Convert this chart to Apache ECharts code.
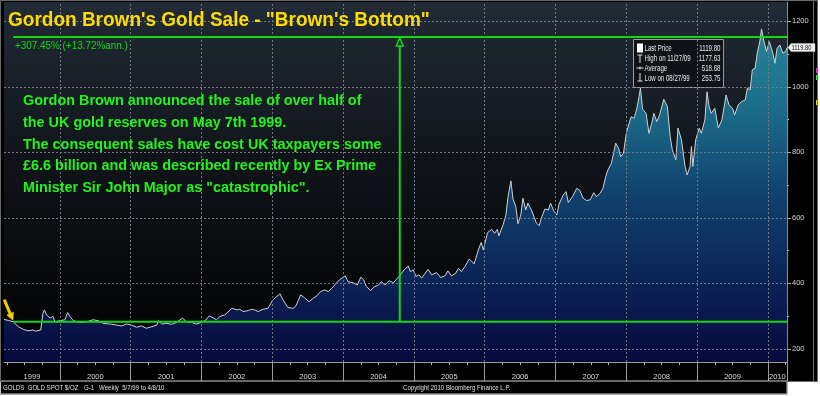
<!DOCTYPE html>
<html>
<head>
<meta charset="UTF-8">
<title>Gordon Brown's Gold Sale</title>
<script src="https://cdn.jsdelivr.net/npm/echarts@6/dist/echarts.min.js"></script>
<style>
html, body { margin: 0; padding: 0; background: #fff; }
#main { width: 820px; height: 396px; }
</style>
</head>
<body>
<div id="main"></div>
<script>
// gold spot $/oz, weekly (decimal year -> price)
var goldYears = [
  1999.21,1999.27,1999.34,1999.41,1999.48,1999.55,1999.62,1999.65,1999.67,1999.73,1999.76,1999.78,1999.81,1999.86,1999.90,1999.93,
  2000.00,2000.07,2000.11,2000.14,2000.19,2000.28,2000.38,2000.47,2000.54,2000.61,2000.71,2000.80,2000.87,2000.94,
  2001.01,2001.08,2001.15,2001.22,2001.30,2001.37,2001.39,2001.44,2001.51,2001.58,2001.65,2001.73,2001.79,2001.86,2001.93,
  2002.00,2002.06,2002.11,2002.17,2002.21,2002.26,2002.33,2002.43,2002.50,2002.54,2002.59,2002.66,2002.71,2002.75,2002.80,2002.87,2002.94,
  2003.00,2003.05,2003.11,2003.15,2003.22,2003.30,2003.34,2003.40,2003.46,2003.52,2003.58,2003.63,2003.68,2003.74,2003.79,2003.84,2003.90,2003.95,
  2004.03,2004.07,2004.14,2004.20,2004.25,2004.29,2004.33,2004.39,2004.44,2004.50,2004.54,2004.59,2004.65,2004.71,2004.79,2004.86,2004.92,2004.95,2004.99,
  2005.03,2005.07,2005.11,2005.16,2005.20,2005.25,2005.32,2005.38,2005.44,2005.48,2005.53,2005.59,2005.63,2005.67,2005.72,2005.78,2005.81,2005.85,2005.91,2005.95,2005.98,
  2006.04,2006.10,2006.14,2006.18,2006.20,2006.26,2006.30,2006.33,2006.37,2006.40,2006.44,2006.47,2006.51,2006.54,2006.58,2006.61,2006.66,2006.68,2006.73,2006.77,2006.80,2006.85,2006.90,2006.93,2006.98,
  2007.02,2007.05,2007.11,2007.15,2007.18,2007.24,2007.30,2007.34,2007.39,2007.44,2007.49,2007.54,2007.58,2007.63,2007.67,2007.71,2007.74,2007.79,2007.85,2007.89,2007.92,2007.96,
  2008.00,2008.04,2008.07,2008.11,2008.15,2008.18,2008.20,2008.23,2008.28,2008.32,2008.36,2008.39,2008.43,2008.47,2008.53,2008.58,2008.62,2008.65,2008.70,2008.73,2008.78,2008.83,2008.86,2008.90,2008.92,2008.94,2008.98,
  2009.03,2009.06,2009.11,2009.14,2009.17,2009.20,2009.25,2009.30,2009.35,2009.41,2009.45,2009.50,2009.53,2009.58,2009.63,2009.68,2009.71,2009.75,2009.78,2009.82,2009.85,2009.89,2009.91,2009.94,2009.98,
  2010.02,2010.07,2010.10,2010.13,2010.17,2010.21,2010.25,2010.27
];
var goldPrices = [
  290,287,283,268,260,255,258,254,255,258,309,319,304,294,299,283,
  286,289,311,299,286,281,283,289,286,278,276,273,270,276,
  273,266,270,263,268,273,286,276,278,275,281,294,283,281,276,
  281,288,301,294,289,299,304,324,319,321,314,317,321,319,314,321,324,
  347,358,368,350,326,324,334,365,355,344,355,362,375,380,375,385,400,411,
  423,405,402,395,419,411,390,378,390,395,405,395,408,402,421,441,453,436,441,
  421,426,416,431,443,426,433,418,423,438,423,431,446,436,451,474,469,459,502,525,502,
  555,565,553,565,545,579,609,665,713,657,634,582,609,660,624,645,624,621,584,576,599,627,624,645,619,
  609,642,670,680,647,665,690,685,660,653,655,677,665,675,690,726,746,767,828,813,787,797,
  858,889,909,904,935,970,996,932,919,858,889,919,894,914,962,940,848,808,777,874,838,757,731,757,818,757,838,
  874,858,899,985,940,919,935,874,899,975,945,935,914,945,955,960,996,991,1052,1057,1103,1143,1177,1143,1108,
  1138,1103,1072,1118,1128,1103,1108,1120
];

// axis range and ticks
var xMin = 1999.21, xMax = 2010.27;
var yMin = 160, yMax = 1259;
var yearTicks = [2000, 2001, 2002, 2003, 2004, 2005, 2006, 2007, 2008, 2009, 2010];
var priceLabels = [200, 400, 600, 800, 1000, 1200];
var priceMinorTicks = [300, 500, 700, 900, 1100];

// annotation lines
var saleStart = 1999.34;   // 7 May 1999
var salePrice = 283;
var topPrice = 1152;       // +307.45%
var arrowYear = 2004.80;

// legend box
var lastPrice = 1119.80;
var legendRows = [
  ['Last Price', '1119.80'],
  ['High on 11/27/09', '1177.63'],
  ['Average', '518.68'],
  ['Low on 08/27/99', '253.75']
];

var titleText = 'Gordon Brown\'s Gold Sale - "Brown\'s Bottom"';
var noteLines = [
  'Gordon Brown announced the sale of over half of',
  'the UK gold reserves on May 7th 1999.',
  'The consequent sales have cost UK taxpayers some',
  '\u00a36.6 billion and was described recently by Ex Prime',
  'Minister Sir John Major as "catastrophic".'
];

var SANS = "'Liberation Sans', Arial, sans-serif";
var GREEN = '#12d812';
var GRIDDOT = '#6f7983';

var goldData = goldYears.map(function (y, i) { return [y, goldPrices[i]]; });

// year label positions: middle of each visible year segment
var bounds = [xMin].concat(yearTicks.filter(function (y) { return y > xMin && y < xMax; }), [xMax]);
var yearLabelPos = [];
for (var i = 0; i < bounds.length - 1; i++) yearLabelPos.push((bounds[i] + bounds[i + 1]) / 2);
var quarterTicks = [];
for (var q = Math.ceil(xMin * 4) / 4; q <= xMax; q += 0.25) {
  if (q % 1 !== 0) quarterTicks.push(q);
}

// small condensed text helper (no narrow font installed, so squeeze it)
function narrowText(txt, x, y, size, fill, align, z, sx) {
  return {
    type: 'text', x: x, y: y, scaleX: sx || 0.76, z: z || 20,
    style: { text: txt, x: 0, y: 0, fill: fill, fontSize: size, fontFamily: SANS, align: align || 'left', verticalAlign: 'middle' }
  };
}

var graphics = [];
graphics.push({
  type: 'text', x: 8, y: 20, scaleX: 0.95, z: 20,
  style: {
    text: titleText, x: 0, y: 0, fill: '#ffdc00', fontSize: 20, fontWeight: 'bold',
    fontFamily: SANS, verticalAlign: 'middle',
    shadowColor: 'rgba(0,0,0,0.9)', shadowBlur: 2, shadowOffsetX: 1, shadowOffsetY: 1
  }
});
graphics.push(narrowText('+307.45% (+13.72%ann.)', 15, 46, 11.5, GREEN, 'left', 20, 0.86));
noteLines.forEach(function (t, i) {
  graphics.push({
    type: 'text', x: 23, y: 101 + i * 21.7, scaleX: 0.96, z: 20,
    style: {
      text: t, x: 0, y: 0, fill: '#22f41a', fontSize: 15, fontWeight: 'bold',
      fontFamily: SANS, verticalAlign: 'middle',
      shadowColor: 'rgba(0,0,0,0.8)', shadowBlur: 1, shadowOffsetX: 1, shadowOffsetY: 1
    }
  });
});

// legend box
var lg = { type: 'group', x: 633, y: 39, z: 20, children: [
  { type: 'rect', shape: { x: 0.5, y: 0.5, width: 90, height: 48 }, style: { fill: 'rgba(14,18,22,0.9)', stroke: '#9a9a9a', lineWidth: 1 } },
  { type: 'rect', shape: { x: 4, y: 4.5, width: 6, height: 9 }, style: { fill: '#ffffff' } },
  { type: 'polyline', shape: { points: [[4.5, 16], [9.5, 16]] }, style: { stroke: '#e0e0e0', lineWidth: 1 } },
  { type: 'polyline', shape: { points: [[7, 16], [7, 24]] }, style: { stroke: '#e0e0e0', lineWidth: 1 } },
  { type: 'polyline', shape: { points: [[3.5, 29], [10.5, 29]] }, style: { stroke: '#e0e0e0', lineWidth: 1 } },
  { type: 'polyline', shape: { points: [[7, 27.5], [7, 30.5]] }, style: { stroke: '#e0e0e0', lineWidth: 1 } },
  { type: 'polyline', shape: { points: [[7, 34], [7, 42]] }, style: { stroke: '#e0e0e0', lineWidth: 1 } },
  { type: 'polyline', shape: { points: [[4.5, 42], [9.5, 42]] }, style: { stroke: '#e0e0e0', lineWidth: 1 } }
]};
legendRows.forEach(function (r, i) {
  lg.children.push(narrowText(r[0], 11.5, 9.5 + i * 10, 8.5, '#e8e8e8', 'left', 20, 0.72));
  lg.children.push(narrowText(r[1], 87.5, 9.5 + i * 10, 8.5, '#e8e8e8', 'right', 20, 0.72));
});
graphics.push(lg);

// frame pieces and footer strip
graphics.push({ type: 'polyline', z: 30, shape: { points: [[813.5, 0], [813.5, 381]] }, style: { stroke: '#707070', lineWidth: 1 } });
graphics.push({ type: 'rect', z: 30, shape: { x: 816, y: 68, width: 2, height: 5 }, style: { fill: '#ff20ff' } });
graphics.push({ type: 'rect', z: 30, shape: { x: 816, y: 75, width: 2, height: 5 }, style: { fill: '#30ff30' } });
graphics.push({ type: 'rect', z: 30, shape: { x: 816, y: 100, width: 2, height: 5 }, style: { fill: '#ffe000' } });
graphics.push({ type: 'rect', z: 30, shape: { x: 0.5, y: 381, width: 786.5, height: 13 }, style: { fill: '#000', stroke: '#c8c8c8', lineWidth: 1 } });
graphics.push(narrowText('GOLDS  GOLD SPOT $/OZ', 3, 388, 8, '#e0e0e0', 'left', 31));
graphics.push(narrowText('G-1', 84, 388, 8, '#e0e0e0', 'left', 31));
graphics.push(narrowText('Weekly  5/7/99 to 4/8/10', 99, 388, 8, '#e0e0e0', 'left', 31));
graphics.push(narrowText('Copyright 2010 Bloomberg Finance L.P.', 403, 388, 8, '#e0e0e0', 'left', 31));
graphics.push({ type: 'rect', z: 30, shape: { x: 787.5, y: 381.5, width: 33, height: 15 }, style: { fill: '#fff' } });
graphics.push({ type: 'rect', z: 30, shape: { x: 818, y: 0, width: 2, height: 396 }, style: { fill: '#fff' } });
graphics.push({ type: 'rect', z: 30, shape: { x: 0, y: 394.5, width: 820, height: 2 }, style: { fill: '#fff' } });
graphics.push({ type: 'rect', z: 30, shape: { x: 0.5, y: 0.5, width: 817, height: 381 }, style: { fill: 'none', stroke: '#6a6a6a', lineWidth: 1 } });

// dotted grid drawn as mark lines so it sits on the year boundaries
var gridLines = yearTicks.map(function (y) { return { xAxis: y }; })
  .concat(priceLabels.map(function (p) { return { yAxis: p }; }));

var myChart = echarts.init(document.getElementById('main'));
var option = {
  backgroundColor: '#000',
  animation: false,
  grid: {
    left: 4, right: 33, top: 2, bottom: 34, show: true, borderWidth: 0,
    outerBoundsMode: 'none',
    backgroundColor: {
      type: 'linear', x: 0, y: 0, x2: 0, y2: 1,
      colorStops: [
        { offset: 0, color: '#212b36' },
        { offset: 0.45, color: '#101419' },
        { offset: 0.8, color: '#060708' },
        { offset: 1, color: '#040405' }
      ]
    }
  },
  xAxis: [{
    type: 'value', min: xMin, max: xMax, position: 'bottom',
    axisLine: { show: true, onZero: false, lineStyle: { color: '#9a9a9a', width: 1 } },
    axisTick: { show: true, customValues: yearTicks.concat([xMax]), length: 19, lineStyle: { color: '#9a9a9a' } },
    axisLabel: {
      customValues: yearLabelPos, margin: 11, color: '#dcdcdc', fontSize: 7.5, fontFamily: SANS,
      formatter: function (v) { return String(Math.floor(v)); }
    },
    splitLine: { show: false }
  }, {
    type: 'value', min: xMin, max: xMax, position: 'bottom',
    axisLine: { show: false, onZero: false },
    axisTick: { show: true, customValues: quarterTicks, length: 3, lineStyle: { color: '#b0b0b0' } },
    axisLabel: { show: false },
    splitLine: { show: false }
  }],
  yAxis: [{
    type: 'value', min: yMin, max: yMax, position: 'right',
    axisLine: { show: true, onZero: false, lineStyle: { color: '#8a8a8a', width: 1 } },
    axisTick: { show: true, customValues: priceLabels, length: 4, lineStyle: { color: '#b0b0b0' } },
    axisLabel: {
      customValues: priceLabels, margin: 5, color: '#d4d4d4', fontSize: 7.5, fontFamily: SANS,
      formatter: function (v) { return String(v); }
    },
    splitLine: { show: false }
  }, {
    type: 'value', min: yMin, max: yMax, position: 'right',
    axisLine: { show: false, onZero: false },
    axisTick: { show: true, customValues: priceMinorTicks, length: 2, lineStyle: { color: '#b0b0b0' } },
    axisLabel: { show: false },
    splitLine: { show: false }
  }],
  series: [{
    name: 'Gold', type: 'line', data: goldData, showSymbol: false, z: 2,
    lineStyle: { color: '#cdd1d5', width: 1 },
    areaStyle: {
      origin: 'start', opacity: 1,
      color: {
        type: 'linear', x: 0, y: 2, x2: 0, y2: 362, global: true,
        colorStops: [
          { offset: 0, color: '#2a8d9d' },
          { offset: 0.3, color: '#1b6c88' },
          { offset: 0.55, color: '#103f6c' },
          { offset: 0.8, color: '#0b2054' },
          { offset: 1, color: '#07093c' }
        ]
      }
    },
    markLine: {
      silent: true, symbol: 'none', label: { show: false }, animation: false,
      lineStyle: { color: GRIDDOT, width: 1, type: [2, 2], opacity: 1 },
      emphasis: { disabled: true },
      data: gridLines
    }
  }, {
    name: 'sale', type: 'line', showSymbol: false, z: 5,
    data: [[saleStart, salePrice], [xMax, salePrice]],
    lineStyle: { color: GREEN, width: 2 }
  }, {
    name: 'top', type: 'line', showSymbol: false, z: 5,
    data: [[saleStart, topPrice], [xMax, topPrice]],
    lineStyle: { color: GREEN, width: 2 }
  }, {
    name: 'marker', type: 'line', z: 5, showSymbol: true,
    data: [
      { value: [arrowYear, salePrice], symbol: 'none' },
      { value: [arrowYear, topPrice], symbol: 'triangle', symbolSize: [7, 8], symbolOffset: [0, 5],
        itemStyle: { color: '#1d2731', borderColor: GREEN, borderWidth: 1.5 } }
    ],
    lineStyle: { color: GREEN, width: 2 }
  }],
  graphic: graphics
};
myChart.setOption(option);

var extra = [];

// yellow arrow pointing at the start of the sale line
var tip = myChart.convertToPixel({ xAxisIndex: 0, yAxisIndex: 0 }, [saleStart, salePrice]);
(function () {
  var tx = tip[0], ty = tip[1] - 1;
  var dx = 9, dy = 21, len = Math.sqrt(dx * dx + dy * dy);
  var ux = dx / len, uy = dy / len, nx = -uy, ny = ux;
  var bx = tx - ux * 8, by = ty - uy * 8;
  var sx = tx - dx, sy = ty - dy;
  var pts = [
    [sx + nx * 1.5, sy + ny * 1.5], [bx + nx * 1.5, by + ny * 1.5], [bx + nx * 4, by + ny * 4],
    [tx, ty], [bx - nx * 4, by - ny * 4], [bx - nx * 1.5, by - ny * 1.5], [sx - nx * 1.5, sy - ny * 1.5]
  ];
  extra.push({ type: 'polygon', z: 25, shape: { points: pts }, style: { fill: '#f2cc00' } });
})();

// last price tag on the right axis
var lp = myChart.convertToPixel({ xAxisIndex: 0, yAxisIndex: 0 }, [xMax, lastPrice]);
extra.push({ type: 'polygon', z: 35,
  shape: { points: [[lp[0] + 1, lp[1]], [lp[0] + 4, lp[1] - 4], [lp[0] + 28, lp[1] - 4], [lp[0] + 28, lp[1] + 4], [lp[0] + 4, lp[1] + 4]] },
  style: { fill: '#f2f2f2', stroke: '#bbbbbb', lineWidth: 0.5 } });
extra.push(narrowText(lastPrice.toFixed(2), lp[0] + 4.5, lp[1] + 0.5, 8, '#111', 'left', 36, 0.72));

myChart.setOption({ graphic: graphics.concat(extra) });
</script>
</body>
</html>
